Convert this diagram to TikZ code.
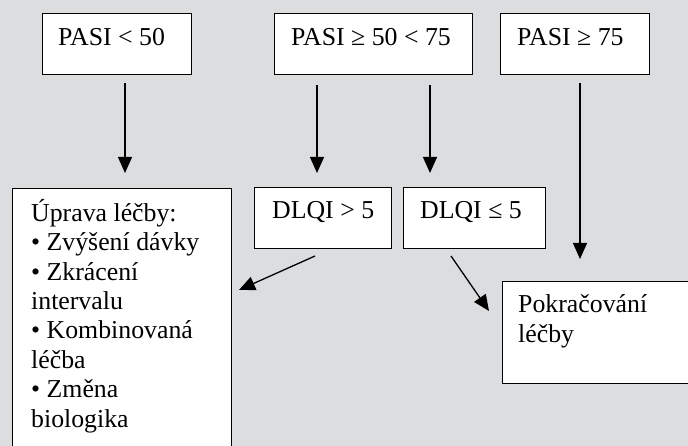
\documentclass[tikz,border=0pt]{standalone}
\usepackage{fontspec}
\setmainfont{Liberation Serif}
\usetikzlibrary{arrows.meta}
\definecolor{bg}{RGB}{220,221,223}
\begin{document}
\begin{tikzpicture}[x=1pt,y=-1pt,
  box/.style={draw=black, fill=white, line width=1.3pt, rectangle, inner sep=0pt, anchor=north west},
  lbl/.style={anchor=base west, inner sep=0pt, font=\fontsize{25.8}{29.4}\selectfont, align=left},
  arr/.style={-{Triangle[length=16pt,width=14pt]}, line width=1.3pt}]
\fill[bg] (0,0) rectangle (688,446);
\useasboundingbox (0,0) rectangle (688,446);
\clip (0,0) rectangle (688,446);
% boxes
\node[box, minimum width=149pt, minimum height=61pt] (b1) at (42,13) {};
\node[box, minimum width=198pt, minimum height=61pt] (b2) at (274,13) {};
\node[box, minimum width=149pt, minimum height=61pt] (b3) at (500,13) {};
\node[box, minimum width=137pt, minimum height=61pt] (d1) at (254,187) {};
\node[box, minimum width=142pt, minimum height=61pt] (d2) at (403,187) {};
\node[box, minimum width=219pt, minimum height=270pt] (u) at (12,188) {};
\node[box, minimum width=200pt, minimum height=102pt] (p) at (502,281) {};
% texts (base anchor = baseline of the last line)
\node[lbl] (t1) at (58,46) {PASI < 50};
\node[lbl] (t2) at (291,46) {PASI ≥ 50 < 75};
\node[lbl] (t3) at (517,46) {PASI ≥ 75};
\node[lbl] (t4) at (272,219) {DLQI > 5};
\node[lbl] (t5) at (420,219) {DLQI ≤ 5};
\node[lbl] (t6) at (31,427) {Úprava léčby:\\• Zvýšení dávky\\• Zkrácení\\intervalu\\• Kombinovaná\\léčba\\• Změna\\biologika};
\node[lbl] (t7) at (518,342) {Pokračování\\léčby};
% connector ends
\coordinate (s1) at (125,83);  \coordinate (e1) at (125,173);
\coordinate (s2) at (317,85);  \coordinate (e2) at (317,173);
\coordinate (s3) at (430,85);  \coordinate (e3) at (430,173);
\coordinate (s4) at (580,83);  \coordinate (e4) at (580,259);
\coordinate (s5) at (315,256); \coordinate (e5) at (239,290);
\coordinate (s6) at (451,256); \coordinate (e6) at (489,311);
\draw[arr] (s1) -- (e1);
\draw[arr] (s2) -- (e2);
\draw[arr] (s3) -- (e3);
\draw[arr] (s4) -- (e4);
\draw[arr] (s5) -- (e5);
\draw[arr] (s6) -- (e6);
\end{tikzpicture}
\end{document}
